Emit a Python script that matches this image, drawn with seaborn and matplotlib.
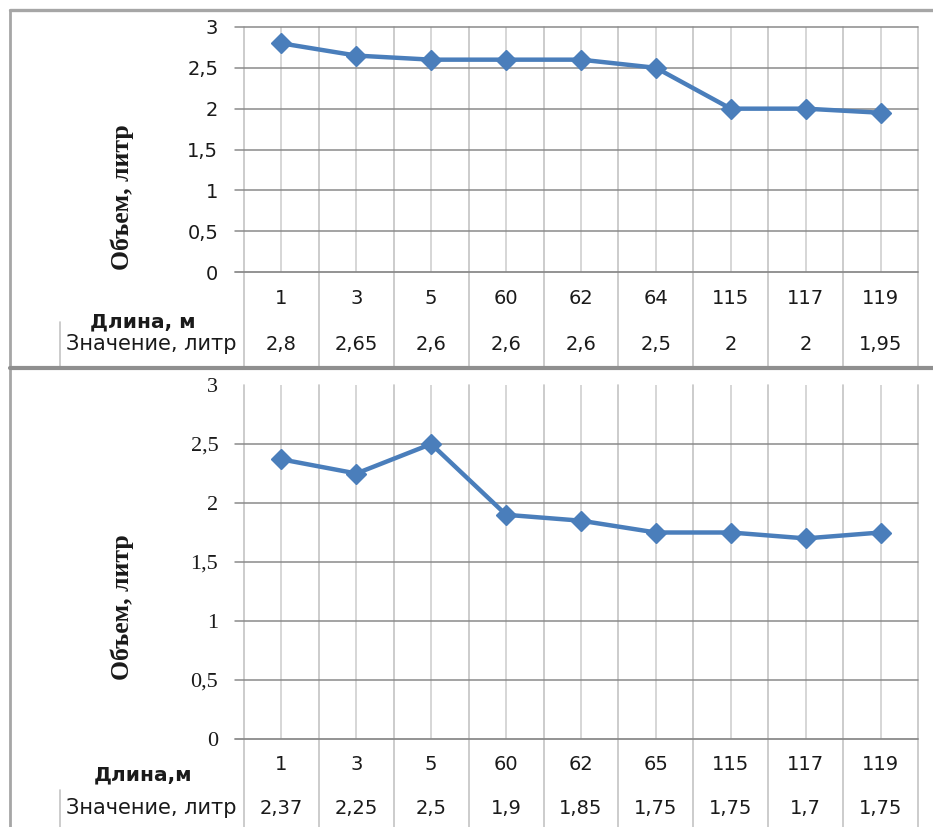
import numpy as np
import pandas as pd
import matplotlib
matplotlib.use("Agg")
import matplotlib.pyplot as plt
import matplotlib.transforms as mtransforms
from matplotlib.lines import Line2D
from matplotlib.ticker import FuncFormatter
import seaborn as sns

# Measurements: length along the line (m) and measured volume (litres)
top_lengths = ["1", "3", "5", "60", "62", "64", "115", "117", "119"]
top_volumes = [2.8, 2.65, 2.6, 2.6, 2.6, 2.5, 2.0, 2.0, 1.95]

bottom_lengths = ["1", "3", "5", "60", "62", "65", "115", "117", "119"]
bottom_volumes = [2.37, 2.25, 2.5, 1.9, 1.85, 1.75, 1.75, 1.7, 1.75]

y_ticks = [0, 0.5, 1, 1.5, 2, 2.5, 3]

y_label = "Объем, литр"
row_label_top = "Длина, м"
row_label_bottom = "Длина,м"
value_row_label = "Значение, литр"

W, H = 933, 827
sns.set_theme(style="white")
plt.rcParams["font.family"] = ["DejaVu Sans"]

LINE = "#4a7ebb"
GRID_H = "#8a8a8a"
GRID_V = "#cfcfcf"
BORDER = "#a6a6a6"
TEXT = "#1a1a1a"

fig = plt.figure(figsize=(W / 100, H / 100), dpi=100)
fig.patch.set_facecolor("white")


def fx(px):
    return px / W


def fy(px):
    return 1 - px / H


def fmt(v):
    return f"{v:g}".replace(".", ",")


def panel(left, top, right, bottom, lengths, volumes, table_bottom, row1, row2,
          tick_family, tick_size, draw_top_grid, row_label, row_label_y, key_top,
          ylabel_y):
    ax = fig.add_axes([fx(left), fy(bottom), fx(right - left), (bottom - top) / H])
    ax.set_facecolor("white")
    n = len(lengths)
    df = pd.DataFrame({"pos": np.arange(n), "vol": volumes})

    ax.set_xlim(-0.5, n - 0.5)
    ax.set_ylim(0, 3)
    for s in ax.spines.values():
        s.set_visible(False)

    h_px = bottom - top
    w_px = right - left
    xdata_yaxes = mtransforms.blended_transform_factory(ax.transData, ax.transAxes)
    xaxes_ydata = mtransforms.blended_transform_factory(ax.transAxes, ax.transData)

    # vertical lines: category centres inside the plot, boundaries through the table
    tb = (bottom - table_bottom) / h_px
    for k in range(n):
        ax.plot([k, k], [0, 1], transform=xdata_yaxes, color=GRID_V, lw=1.2, zorder=1)
    for k in range(n + 1):
        ax.plot([k - 0.5, k - 0.5], [tb, 1], transform=xdata_yaxes, color="#c4c4c4",
                lw=1.2, clip_on=False, zorder=1)

    # horizontal gridlines with short outside ticks
    for v in y_ticks:
        if v == 3 and not draw_top_grid:
            continue
        ax.plot([-9 / w_px, 1], [v, v], transform=xaxes_ydata, color=GRID_H,
                lw=1.3 if v == 0 else 1.1, clip_on=False, zorder=2)

    sns.lineplot(data=df, x="pos", y="vol", ax=ax, color=LINE, lw=3.2, marker="D",
                 markersize=10, markeredgecolor=LINE, markeredgewidth=1, zorder=5,
                 clip_on=False)

    ax.set_xticks([])
    ax.set_xlabel("")
    ax.set_ylabel("")
    ax.set_yticks(y_ticks)
    ax.yaxis.set_major_formatter(FuncFormatter(lambda v, p: fmt(v)))
    ax.tick_params(axis="y", length=0, pad=18.5, labelsize=tick_size, labelcolor=TEXT)
    for t in ax.get_yticklabels():
        t.set_fontfamily(tick_family)

    # data table under the axis
    r1 = (bottom - row1) / h_px
    r2 = (bottom - row2) / h_px
    for i, (lab, v) in enumerate(zip(lengths, volumes)):
        ax.text(i, r1, lab, transform=xdata_yaxes, ha="center", va="center",
                fontsize=14, color=TEXT)
        ax.text(i, r2, fmt(v), transform=xdata_yaxes, ha="center", va="center",
                fontsize=14, color=TEXT)

    fig.text(fx(143), fy(row_label_y), row_label, ha="center", va="center",
             fontsize=14.5, fontweight="bold", color=TEXT)
    fig.text(fx(151), fy(row2), value_row_label, ha="center", va="center",
             fontsize=15, color=TEXT)
    fig.add_artist(Line2D([fx(60), fx(60)], [fy(key_top), fy(table_bottom)],
                          color="#c4c4c4", lw=1.2))

    fig.text(fx(122), fy(ylabel_y), y_label, rotation=90, ha="center", va="center",
             fontsize=18.5, fontweight="bold", family="Liberation Serif", color=TEXT)
    return ax


panel(244, 27, 918, 272, top_lengths, top_volumes, 366, 298, 344,
      "DejaVu Sans", 14, True, row_label_top, 322, 322, 197)
panel(244, 385, 918, 739, bottom_lengths, bottom_volumes, 827, 764, 808,
      "Liberation Serif", 16, False, row_label_bottom, 775, 790, 607)

# chart frames
fig.add_artist(Line2D([fx(10), 1], [fy(10), fy(10)], color=BORDER, lw=2.4))
fig.add_artist(Line2D([fx(10), fx(10)], [fy(10), 0], color=BORDER, lw=2.0))
fig.add_artist(Line2D([fx(10), 1], [fy(368), fy(368)], color="#8f8f8f", lw=3.0))

fig.savefig("out.png", dpi=100, facecolor="white")
